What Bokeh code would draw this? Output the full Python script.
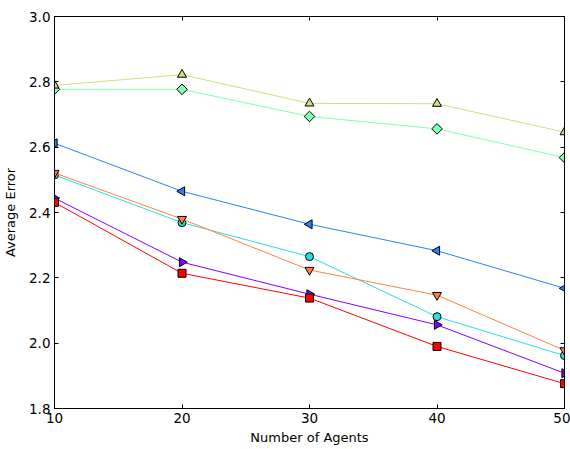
import math
from bokeh.plotting import figure
from bokeh.models import LinearAxis, FixedTicker, Range1d, CustomJSTickFormatter
from bokeh.embed import file_html
from bokeh.resources import INLINE

agents = [10, 20, 30, 40, 50]

err_tri_up = [2.789, 2.822, 2.734, 2.733, 2.646]
err_diamond = [2.777, 2.777, 2.694, 2.656, 2.568]
err_tri_left = [2.612, 2.465, 2.364, 2.283, 2.168]
err_tri_down = [2.521, 2.380, 2.224, 2.147, 1.978]
err_circle = [2.515, 2.369, 2.265, 2.081, 1.962]
err_tri_right = [2.444, 2.248, 2.150, 2.056, 1.908]
err_square = [2.431, 2.214, 2.138, 1.990, 1.876]

y_ticks = [1.8, 2.0, 2.2, 2.4, 2.6, 2.8, 3.0]
x_ticks = [10, 20, 30, 40, 50]

# (values, colour, marker, rotation, size)
series = [
    (err_tri_right, "#8000ff", "triangle", -math.pi / 2, 9),
    (err_tri_left, "#2a80f6", "triangle", math.pi / 2, 9),
    (err_circle, "#2addde", "circle", 0.0, 8),
    (err_diamond, "#80ffb4", "square", math.pi / 4, 7.5),
    (err_tri_up, "#d4dd80", "triangle", 0.0, 9),
    (err_tri_down, "#ff8042", "inverted_triangle", 0.0, 9),
    (err_square, "#ff0000", "square", 0.0, 8),
]

p = figure(width=570, height=449, output_backend="svg", toolbar_location=None,
           x_range=Range1d(10, 50), y_range=Range1d(1.8, 3.0),
           min_border_left=53, min_border_right=6, min_border_top=16,
           min_border_bottom=41)

p.xgrid.visible = False
p.ygrid.visible = False
p.outline_line_color = "black"
p.outline_line_width = 1
p.background_fill_color = "white"
p.border_fill_color = "white"

font = "DejaVu Sans"

for ys, color, marker, ang, size in series:
    p.line(agents, ys, line_color=color, line_width=1)
    p.scatter(agents, ys, marker=marker, size=size, angle=ang,
              fill_color=color, line_color="black", line_width=1)

p.xaxis.ticker = FixedTicker(ticks=x_ticks)
p.yaxis.ticker = FixedTicker(ticks=y_ticks)
p.yaxis.major_label_overrides = {t: f"{t:.1f}" for t in y_ticks}
p.xaxis.axis_label = "Number of Agents"
p.yaxis.axis_label = "Average Error"

for ax in (p.xaxis[0], p.yaxis[0]):
    ax.major_tick_in = 4
    ax.major_tick_out = 0
    ax.minor_tick_in = 0
    ax.minor_tick_out = 0
    ax.axis_line_color = "black"
    ax.major_label_text_font = font
    ax.major_label_text_font_size = "13.5px"
    ax.major_label_text_color = "black"
    ax.axis_label_text_font = font
    ax.axis_label_text_font_size = "13px"
    ax.axis_label_text_font_style = "normal"
    ax.axis_label_text_color = "black"

p.xaxis.major_label_standoff = 4
p.yaxis.major_label_standoff = 4
p.xaxis.axis_label_standoff = 4
p.yaxis.axis_label_standoff = 8

# tick marks on the top and right edges of the frame, without labels
blank = CustomJSTickFormatter(code="return ''")
for side, ticks in (("above", x_ticks), ("right", y_ticks)):
    ax = LinearAxis(ticker=FixedTicker(ticks=ticks), formatter=blank,
                    major_tick_in=4, major_tick_out=0, minor_tick_in=0, minor_tick_out=0,
                    axis_line_color="black", major_label_standoff=0)
    p.add_layout(ax, side)

open("out.html", "w").write(file_html(p, INLINE))
